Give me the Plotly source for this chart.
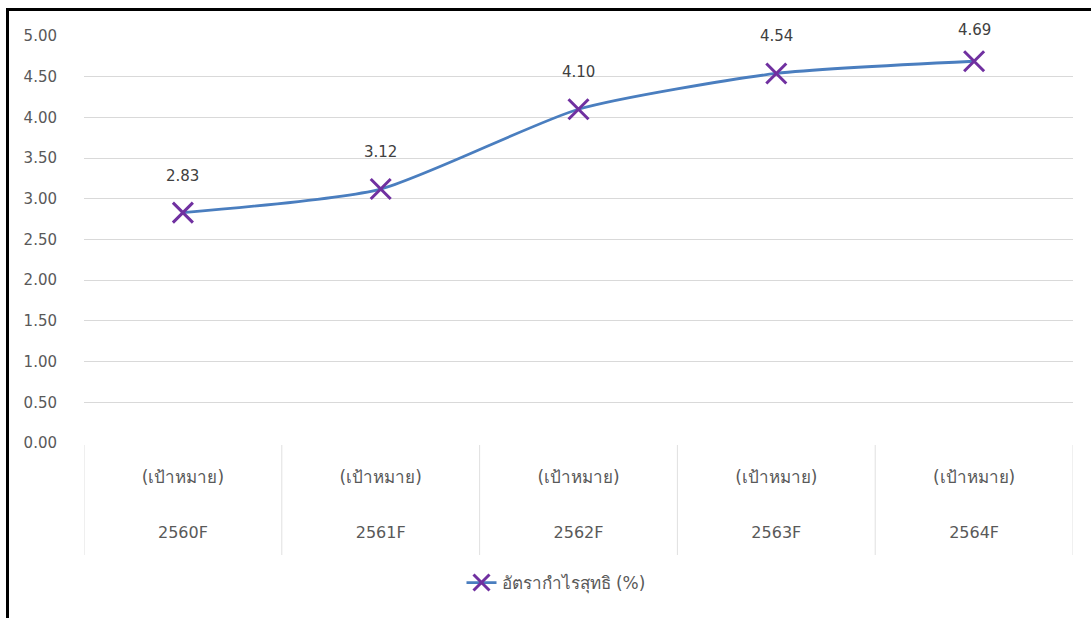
import plotly.graph_objects as go

years = ["2560F", "2561F", "2562F", "2563F", "2564F"]
target_label = "(เป้าหมาย)"
net_margin = [2.83, 3.12, 4.10, 4.54, 4.69]
y_ticks = [0, 0.5, 1.0, 1.5, 2.0, 2.5, 3.0, 3.5, 4.0, 4.5, 5.0]
series_name = "อัตรากำไรสุทธิ (%)"

W, H = 1091, 618
L, R, T, B = 84, 18, 36, 175
pw, ph = W - L - R, H - T - B
Y_MAX = 5.0

FONT = "Tahoma, 'DejaVu Sans', 'Noto Sans', sans-serif"
GREY = "#595959"

fig = go.Figure()
fig.add_trace(go.Scatter(
    x=years,
    y=net_margin,
    mode="lines+markers",
    name=series_name,
    line=dict(color="#4a7ebf", width=2.8, shape="spline", smoothing=0.6),
    marker=dict(symbol="x-thin", size=20, color="#7030a0",
                line=dict(color="#7030a0", width=3)),
))
# transparent copy on the outer (year) category axis so it gets drawn
fig.add_trace(go.Scatter(
    x=years, y=net_margin, xaxis="x2", mode="lines",
    opacity=0, showlegend=False, hoverinfo="skip",
))

# value labels above each point, kept inside the top of the chart
for yr, v in zip(years, net_margin):
    point_px = T + (Y_MAX - v) / Y_MAX * ph
    shift = min(37, point_px - 30)
    fig.add_annotation(x=yr, y=v, text=f"{v:.2f}", showarrow=False,
                       yshift=shift, font=dict(family=FONT, size=15, color="#404040"))

def px_x(px):
    return (px - L) / pw

def px_y(py):
    return (H - B - py) / ph

# category dividers under the axis
for i in range(len(years) + 1):
    fig.add_shape(type="line", xref="x", yref="paper",
                  x0=i - 0.5, x1=i - 0.5, y0=px_y(445), y1=px_y(555),
                  line=dict(color="#e0e0e0", width=1))

# frame lines on the left and top edges
fig.add_shape(type="line", xref="paper", yref="paper",
              x0=px_x(7.5), x1=px_x(7.5), y0=px_y(9), y1=px_y(H),
              line=dict(color="black", width=3))
fig.add_shape(type="line", xref="paper", yref="paper",
              x0=px_x(6), x1=px_x(W), y0=px_y(9.5), y1=px_y(9.5),
              line=dict(color="black", width=3))

fig.update_layout(
    width=W, height=H,
    margin=dict(l=L, r=R, t=T, b=B),
    paper_bgcolor="white", plot_bgcolor="white",
    font=dict(family=FONT, size=15, color=GREY),
    showlegend=True,
    legend=dict(orientation="h", x=px_x(556), xanchor="center",
                y=px_y(583), yanchor="middle",
                font=dict(family=FONT, size=17, color=GREY)),
    # inner level: target label
    xaxis=dict(
        type="category", range=[-0.5, len(years) - 0.5],
        tickvals=years, ticktext=[target_label] * len(years),
        showgrid=False, showline=False, zeroline=False, ticks="",
        ticklabelstandoff=22,
        tickfont=dict(family=FONT, size=17, color=GREY),
    ),
    # outer level: year
    xaxis2=dict(
        type="category", overlaying="x", anchor="y", side="bottom",
        range=[-0.5, len(years) - 0.5],
        showgrid=False, showline=False, zeroline=False, ticks="",
        ticklabelstandoff=78,
        tickfont=dict(family=FONT, size=16, color=GREY),
    ),
    yaxis=dict(
        range=[0, Y_MAX], tickvals=y_ticks, tickformat=".2f",
        showgrid=True, gridcolor="#d9d9d9", gridwidth=1,
        zeroline=False, showline=False, ticks="",
        ticklabelstandoff=26,
        tickfont=dict(family=FONT, size=15, color=GREY),
    ),
)

fig.write_html("out.html")
